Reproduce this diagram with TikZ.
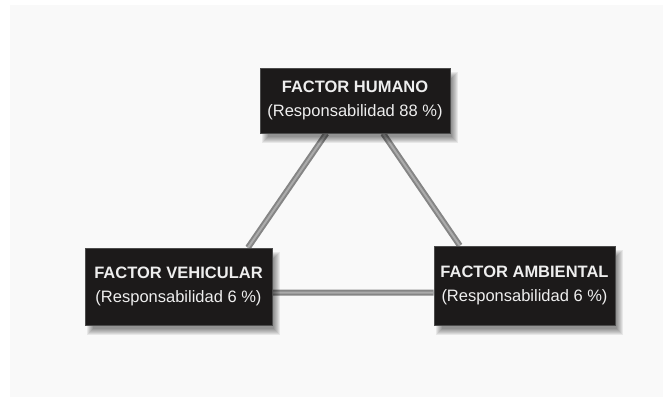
\documentclass[tikz,border=0pt]{standalone}
\usepackage{fontspec}
\setmainfont{Liberation Sans}
\usetikzlibrary{calc}
\pgfdeclarelayer{back}\pgfdeclarelayer{lines}\pgfdeclarelayer{shade}
\pgfsetlayers{back,lines,shade,main}
\definecolor{bgc}{HTML}{F9F9F9}
\definecolor{boxc}{HTML}{1C1A1A}
\definecolor{txtc}{HTML}{EEEEEE}
\definecolor{linec}{HTML}{858585}
\definecolor{linehi}{HTML}{ABABAB}
\begin{document}
\begin{tikzpicture}[x=1pt,y=-1pt,
  factorbox/.style={fill=boxc, draw=black!70, line width=0.8pt, text=txtc, align=center,
    inner sep=0pt, font=\fontsize{16.5}{24}\selectfont},
  link/.style={linec, line width=6pt},
  linkhi/.style={linehi, line width=2pt},
  shadowpiece/.style={fill=black, opacity=0.07}]
\useasboundingbox (0,0) rectangle (663,397);
\begin{pgfonlayer}{back}
  \fill[bgc] (10,5) rectangle (663,397);
\end{pgfonlayer}

\node[factorbox, minimum width=190pt, minimum height=65pt] (hum) at (355,100.5)
  {\textbf{FACTOR HUMANO}\\(Responsabilidad 88 \%)};
\node[factorbox, minimum width=187pt, minimum height=77pt] (veh) at (178.5,286.5)
  {\textbf{FACTOR VEHICULAR}\\(Responsabilidad 6 \%)};
\node[factorbox, minimum width=181pt, minimum height=79pt] (amb) at (524.5,285.5)
  {\textbf{FACTOR AMBIENTAL}\\(Responsabilidad 6 \%)};

\begin{pgfonlayer}{shade}
  \foreach \n in {hum,veh,amb}{
    \foreach \e in {0,...,6}{
      \fill[shadowpiece] ($(\n.north west)+(8-\e,10-\e)$) rectangle ($(\n.south east)+(2+\e,4+\e)$);
    }
  }
\end{pgfonlayer}

\coordinate (h1) at ($(hum.south west)!0.35!(hum.south east)$);
\coordinate (h2) at ($(hum.south west)!0.647!(hum.south east)$);
\coordinate (v1) at ($(veh.north west)!0.87!(veh.north east)$);
\coordinate (v2) at ($(veh.north east)!0.58!(veh.south east)$);
\coordinate (a1) at ($(amb.north west)!0.144!(amb.north east)$);
\coordinate (a2) at ($(amb.north west)!0.59!(amb.south west)$);

\begin{pgfonlayer}{lines}
  \draw[link] (h1) -- (v1);
  \draw[link] (h2) -- (a1);
  \draw[link] (v2) -- (a2);
  \draw[linkhi] (h1) -- (v1);
  \draw[linkhi] (h2) -- (a1);
  \draw[linkhi] (v2) -- (a2);
\end{pgfonlayer}
\end{tikzpicture}
\end{document}
